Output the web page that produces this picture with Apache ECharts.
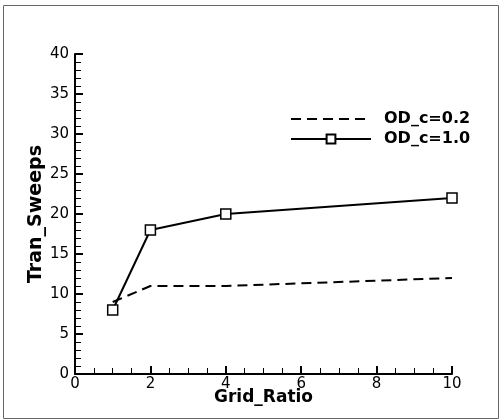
<!DOCTYPE html>
<html>
<head>
<meta charset="utf-8">
<script src="https://cdn.jsdelivr.net/npm/echarts@6/dist/echarts.min.js"></script>
<style>
html,body{margin:0;padding:0;background:#fff;}
#chart{width:503px;height:420px;}
</style>
</head>
<body>
<div id="chart"></div>
<script>
const gridRatio = [1, 2, 4, 10];
const odc02 = [9, 11, 11, 12];
const odc10 = [8, 18, 20, 22];
const seriesNames = ['OD_c=0.2', 'OD_c=1.0'];
const xTitle = 'Grid_Ratio';
const yTitle = 'Tran_Sweeps';

const chart = echarts.init(document.getElementById('chart'), null, {renderer: 'canvas'});
const pairs = (xs, ys) => xs.map((x, i) => [x, ys[i]]);
const font = 'DejaVu Sans';

chart.setOption({
  animation: false,
  backgroundColor: '#fff',
  graphic: [{
    type: 'rect',
    shape: {x: 3.5, y: 5.5, width: 495, height: 413},
    style: {fill: 'none', stroke: '#666', lineWidth: 1},
    silent: true
  }],
  grid: {left: 75, right: 51, top: 54, bottom: 46, containLabel: false},
  legend: {
    orient: 'vertical',
    left: 290,
    top: 111,
    padding: 0,
    itemWidth: 80,
    itemHeight: 11,
    itemGap: 4,
    data: [
      {name: seriesNames[0], itemStyle: {opacity: 0}},
      {name: seriesNames[1]}
    ],
    textStyle: {fontFamily: font, fontWeight: 'bold', fontSize: 16, color: '#000', padding: [0, 0, 0, 8]}
  },
  xAxis: {
    type: 'value',
    min: 0, max: 10, interval: 2,
    name: xTitle,
    nameLocation: 'middle',
    nameGap: 15,
    nameMoveOverlap: false,
    nameTextStyle: {fontFamily: font, fontWeight: 'bold', fontSize: 17, color: '#000'},
    axisLine: {lineStyle: {color: '#000', width: 2}},
    axisTick: {inside: true, length: 8, lineStyle: {color: '#000', width: 2}},
    minorTick: {show: true, splitNumber: 4, length: 6, lineStyle: {color: '#000', width: 1}},
    axisLabel: {fontFamily: font, fontSize: 15, color: '#000', margin: 3},
    splitLine: {show: false}
  },
  yAxis: {
    type: 'value',
    min: 0, max: 40, interval: 5,
    name: yTitle,
    nameLocation: 'middle',
    nameGap: 29,
    nameMoveOverlap: false,
    nameTextStyle: {fontFamily: font, fontWeight: 'bold', fontSize: 19, color: '#000'},
    axisLine: {lineStyle: {color: '#000', width: 2}},
    axisTick: {inside: true, length: 8, lineStyle: {color: '#000', width: 2}},
    minorTick: {show: true, splitNumber: 5, length: 6, lineStyle: {color: '#000', width: 1}},
    axisLabel: {fontFamily: font, fontSize: 15, color: '#000', margin: 6},
    splitLine: {show: false}
  },
  series: [{
    name: seriesNames[0],
    type: 'line',
    data: pairs(gridRatio, odc02),
    symbol: 'none',
    lineStyle: {color: '#000', width: 2, type: [10, 6]},
    itemStyle: {color: '#000'}
  }, {
    name: seriesNames[1],
    type: 'line',
    data: pairs(gridRatio, odc10),
    symbol: 'rect',
    symbolSize: 10,
    lineStyle: {color: '#000', width: 2},
    itemStyle: {color: '#fff', borderColor: '#000', borderWidth: 1.5}
  }]
});
</script>
</body>
</html>
